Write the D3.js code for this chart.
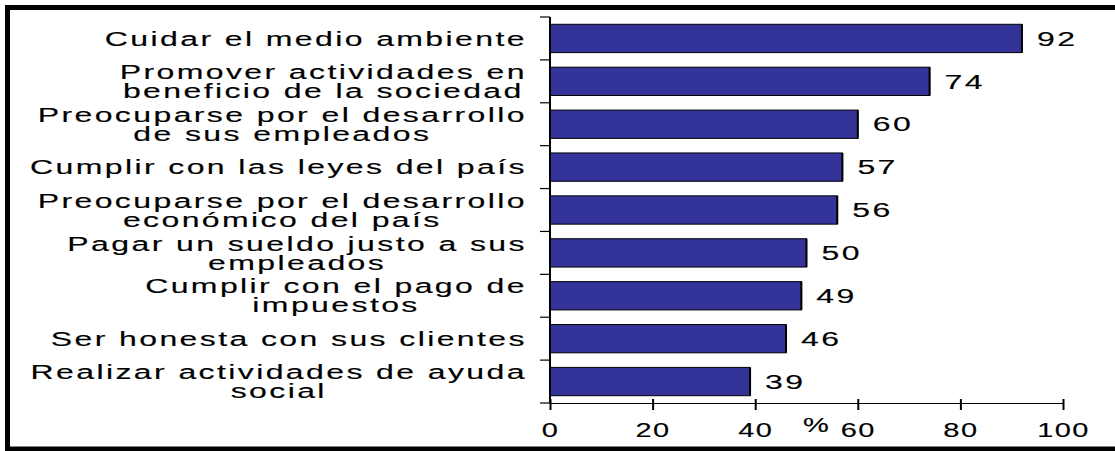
<!DOCTYPE html>
<html>
<head>
<meta charset="utf-8">
<script src="https://cdn.jsdelivr.net/npm/d3@7"></script>
<style>
	body { margin: 0; background: #fff; }
	svg { display: block; }
	text { font-family: "Liberation Sans", Arial, sans-serif; font-size: 20px; fill: #000; stroke: #000; stroke-width: 0.15px; }
</style>
</head>
<body>
<div id="chart"></div>
<script>
/* categorías (de arriba hacia abajo), cada una con sus líneas */
const categories = [
	['Cuidar el medio ambiente'],
	['Promover actividades en', 'beneficio de la sociedad'],
	['Preocuparse por el desarrollo', 'de sus empleados'],
	['Cumplir con las leyes del país'],
	['Preocuparse por el desarrollo', 'económico del país'],
	['Pagar un sueldo justo a sus', 'empleados'],
	['Cumplir con el pago de', 'impuestos'],
	['Ser honesta con sus clientes'],
	['Realizar actividades de ayuda', 'social']
];
const values = [92, 74, 60, 57, 56, 50, 49, 46, 39];
const x_ticks = [0, 20, 40, 60, 80, 100];
const unit_label = '%';

const WIDTH = 1115;
const HEIGHT = 451;
const STRETCH = 1.6;   // el texto original se ve estirado a lo ancho
const SPACING = '1.5px';
const LABEL_RIGHT = 527;

const svg = d3.select('#chart').append('svg')
	.attr('width', WIDTH)
	.attr('height', HEIGHT);

// marco
svg.append('rect')
	.attr('x', 7.5).attr('y', 7.5)
	.attr('width', WIDTH + 10).attr('height', 441.5)
	.attr('fill', 'none')
	.attr('stroke', '#000')
	.attr('stroke-width', 5);

const keys = categories.map((c, i) => i);

const xScale = d3.scaleLinear()
	.domain([0, 100])
	.range([550, 1063]);

const yScale = d3.scaleBand()
	.domain(keys)
	.range([17, 403])
	.paddingInner(0.34)
	.paddingOuter(0.17);

// barras
const bars = svg.append('g');
bars.selectAll('rect')
	.data(values)
	.join('rect')
	.attr('x', xScale(0))
	.attr('y', (d, i) => yScale(i))
	.attr('width', d => xScale(d) - xScale(0))
	.attr('height', yScale.bandwidth())
	.attr('fill', '#333399')
	.attr('stroke', '#000')
	.attr('stroke-width', 1);
// sombra derecha
bars.selectAll('line')
	.data(values)
	.join('line')
	.attr('x1', d => xScale(d))
	.attr('x2', d => xScale(d))
	.attr('y1', (d, i) => yScale(i))
	.attr('y2', (d, i) => yScale(i) + yScale.bandwidth())
	.attr('stroke', '#000')
	.attr('stroke-width', 2);

// valores
svg.append('g').selectAll('text')
	.data(values)
	.join('text')
	.attr('transform', (d, i) => 'translate(' + (xScale(d) + 15) + ',' + (yScale(i) + yScale.bandwidth() / 2) + ') scale(' + STRETCH + ',1)')
	.attr('dy', '0.36em')
	.style('letter-spacing', SPACING)
	.text(d => d);

// eje Y: línea y marcas entre categorías
const step = yScale.step();
const bounds = keys.map(i => yScale(i) - yScale.paddingOuter() * step);
bounds.push(yScale.range()[1]);
const yAxis = svg.append('g');
yAxis.append('line')
	.attr('x1', xScale(0)).attr('x2', xScale(0))
	.attr('y1', bounds[0]).attr('y2', bounds[bounds.length - 1])
	.attr('stroke', '#000').attr('stroke-width', 2);
yAxis.selectAll('.tick')
	.data(bounds)
	.join('line')
	.attr('class', 'tick')
	.attr('x1', xScale(0) - 10).attr('x2', xScale(0))
	.attr('y1', d => d).attr('y2', d => d)
	.attr('stroke', '#000').attr('stroke-width', 1.2);

// etiquetas de categorías (bloque alineado a la derecha, líneas centradas)
const labels = svg.append('g').selectAll('text')
	.data(categories)
	.join('text')
	.attr('text-anchor', 'middle')
	.style('letter-spacing', SPACING);
labels.each(function(lines, i) {
	const t = d3.select(this);
	const cy = yScale(i) + yScale.bandwidth() / 2;
	const gap = 19;
	lines.forEach((line, j) => {
		t.append('tspan')
			.attr('x', 0)
			.attr('y', cy + (j - (lines.length - 1) / 2) * gap)
			.attr('dy', '0.36em')
			.text(line);
	});
	const w = this.getBBox().width * STRETCH;
	t.attr('transform', 'translate(' + (LABEL_RIGHT - w / 2) + ',0) scale(' + STRETCH + ',1)');
});

// eje X
const axisx = d3.axisBottom(xScale)
	.tickValues(x_ticks)
	.tickSizeOuter(0)
	.tickPadding(0);
const xAxis = svg.append('g')
	.attr('transform', 'translate(0,' + yScale.range()[1] + ')')
	.call(axisx);
xAxis.select('.domain').attr('stroke', '#000').attr('stroke-width', 1.2);
xAxis.selectAll('.tick line')
	.attr('y1', -4).attr('y2', 7)
	.attr('stroke', '#000').attr('stroke-width', 2);
xAxis.selectAll('.tick text')
	.attr('y', 27)
	.attr('dy', '0.36em')
	.attr('transform', 'scale(1.45,1)')
	.style('letter-spacing', '1px')
	.style('font-size', '20px')
	.style('font-family', '"Liberation Sans", Arial, sans-serif')
	.attr('fill', '#000');

svg.append('text')
	.attr('text-anchor', 'middle')
	.attr('transform', 'translate(' + 816 + ',' + 425 + ') scale(1.45,1)')
	.attr('dy', '0.36em')
	.text(unit_label);
</script>
</body>
</html>
